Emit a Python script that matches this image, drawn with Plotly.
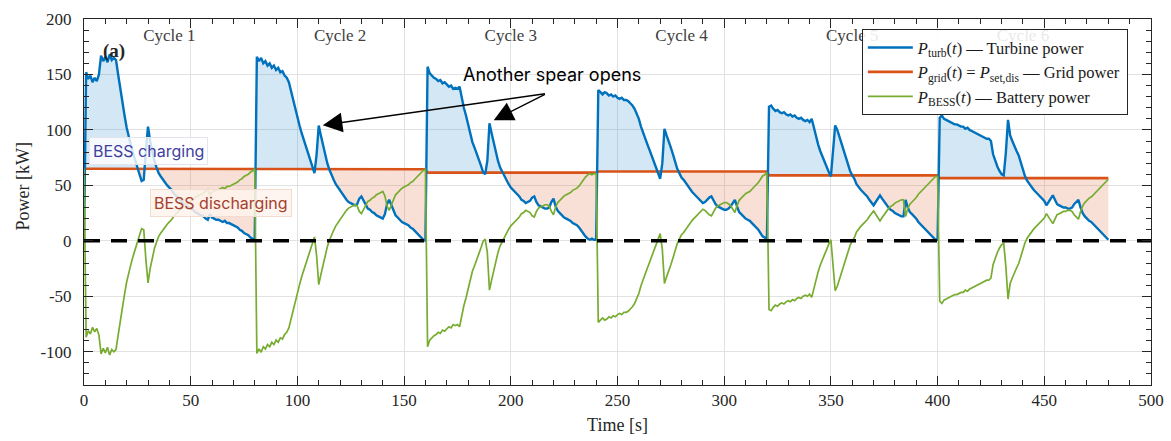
import numpy as np
import plotly.graph_objects as go

# ---------------- data ----------------
# turbine power [kW], 1 s sampling, t = 0 s value then 80 values per cycle
turb_t0 = 0
cycle1 = [152, 146, 149, 143, 147, 144, 150, 167, 162, 166,
          161, 168, 163, 165, 163, 150, 136, 124, 113, 102,
          93, 86, 79, 72, 66, 60, 54, 55, 82, 103,
          90, 80, 72, 66, 61, 58, 55, 52, 50, 48,
          46, 43, 41, 39, 37, 35, 33, 32, 30, 29,
          28, 26, 25, 24, 23, 22, 20, 19, 24, 21,
          20, 19, 19, 18, 17, 18, 16, 16, 15, 14,
          13, 12, 10, 9, 7, 6, 5, 3, 2, 0]
cycle2 = [166, 162, 165, 160, 162, 158, 160, 156, 158, 154,
          156, 152, 153, 149, 147, 143, 135, 126, 118, 110,
          104, 97, 91, 85, 78, 71, 65, 61, 78, 104,
          95, 86, 78, 70, 64, 59, 55, 51, 48, 45,
          42, 40, 37, 35, 34, 33, 32, 33, 38, 40,
          36, 32, 29, 28, 26, 25, 23, 22, 21, 20,
          24, 33, 37, 32, 27, 23, 21, 19, 17, 16,
          15, 14, 12, 11, 9, 7, 5, 3, 1, 0]
cycle3 = [157, 151, 149, 147, 146, 144, 145, 142, 143, 141,
          139, 140, 137, 138, 137, 139, 129, 120, 113, 104,
          95, 89, 84, 79, 74, 68, 62, 60, 72, 106,
          97, 89, 79, 72, 66, 62, 58, 55, 51, 48,
          46, 44, 42, 40, 37, 36, 34, 35, 36, 39,
          40, 35, 32, 31, 30, 29, 29, 30, 35, 38,
          31, 27, 25, 23, 21, 20, 19, 18, 16, 15,
          14, 12, 9, 6, 4, 2, 1, 2, 1, 1]
cycle4 = [136, 134, 132, 134, 133, 131, 132, 130, 131, 129,
          128, 129, 127, 127, 126, 124, 122, 119, 115, 110,
          103, 97, 92, 87, 82, 77, 72, 67, 61, 56,
          70, 101, 95, 90, 84, 78, 71, 65, 61, 57,
          55, 52, 50, 47, 44, 42, 40, 38, 36, 34,
          35, 37, 39, 40, 36, 33, 31, 30, 29, 28,
          28, 29, 31, 34, 37, 31, 26, 24, 22, 20,
          19, 18, 16, 14, 12, 10, 7, 4, 3, 1]
cycle5 = [121, 122, 119, 117, 118, 116, 115, 116, 114, 113,
          114, 112, 113, 111, 110, 111, 109, 108, 109, 107,
          110, 102, 94, 87, 81, 76, 71, 66, 62, 58,
          78, 104, 100, 94, 87, 80, 74, 68, 63, 59,
          56, 51, 48, 46, 44, 42, 40, 37, 34, 32,
          35, 38, 41, 38, 35, 32, 30, 28, 27, 25,
          24, 23, 22, 22, 37, 30, 26, 24, 22, 20,
          17, 15, 13, 11, 9, 7, 5, 3, 1, 1]
cycle6 = [111, 113, 110, 109, 108, 107, 106, 105, 105, 104,
          103, 103, 101, 102, 100, 99, 98, 97, 96, 95,
          94, 93, 92, 92, 90, 78, 72, 67, 63, 60,
          59, 80, 109, 95, 90, 85, 81, 77, 70, 64,
          58, 54, 51, 48, 46, 44, 42, 40, 38, 36,
          32, 35, 38, 41, 37, 33, 32, 31, 30, 30,
          29, 29, 30, 33, 35, 37, 30, 25, 22, 20,
          18, 17, 15, 13, 11, 9, 7, 5, 3, 1]

# grid set-point per cycle [kW]
grid_levels = [65, 64.5, 61.5, 62.5, 59, 56.5]

cycle_labels = ["Cycle 1", "Cycle 2", "Cycle 3", "Cycle 4", "Cycle 5", "Cycle 6"]
cycle_centers = [40, 120, 200, 280, 360, 440]
cycle_label_level = 184
x_ticks = [0, 50, 100, 150, 200, 250, 300, 350, 400, 450, 500]
y_ticks = [-100, -50, 0, 50, 100, 150, 200]
y_ticktext = ["-100", "-50", "0", "50", "100", "150", "200"]

# ---------------- assemble series ----------------
cycles = [cycle1, cycle2, cycle3, cycle4, cycle5, cycle6]
turb = np.array([turb_t0] + [v for c in cycles for v in c], dtype=float)
time = np.arange(len(turb), dtype=float)
grid = np.array([grid_levels[0]] + [g for g, c in zip(grid_levels, cycles) for _ in c], dtype=float)
bess = grid - turb  # power balance: P_BESS = P_grid - P_turb

# insert crossing points for the two-colour fill
tt, uu, gg = [time[0]], [turb[0]], [grid[0]]
for i in range(1, len(time)):
    d0 = turb[i - 1] - grid[i - 1]
    d1 = turb[i] - grid[i]
    if d0 * d1 < 0:
        f = d0 / (d0 - d1)
        tc = time[i - 1] + f * (time[i] - time[i - 1])
        gc = grid[i - 1] + f * (grid[i] - grid[i - 1])
        tt.append(tc); uu.append(gc); gg.append(gc)
    tt.append(time[i]); uu.append(turb[i]); gg.append(grid[i])
tt = np.array(tt); uu = np.array(uu); gg = np.array(gg)
upper = np.maximum(uu, gg)
lower = np.minimum(uu, gg)

BLUE = "#0072BD"
ORANGE = "#D95319"
GREEN = "#77AC30"
SERIF = "Liberation Serif"
SANS = "Inter"

fig = go.Figure()
# cycle labels as a text trace (drawn beneath the legend)
fig.add_trace(go.Scatter(x=cycle_centers, y=[cycle_label_level] * len(cycle_centers),
                         mode="text", text=cycle_labels, textposition="middle center",
                         textfont=dict(family=SERIF, size=17, color="#404040"),
                         showlegend=False, hoverinfo="skip"))
# charging fill (turbine above grid)
fig.add_trace(go.Scatter(x=tt, y=gg, mode="lines", line=dict(width=0),
                         showlegend=False, hoverinfo="skip"))
fig.add_trace(go.Scatter(x=tt, y=upper, mode="lines", line=dict(width=0),
                         fill="tonexty", fillcolor="rgba(0,114,189,0.17)",
                         showlegend=False, hoverinfo="skip"))
# discharging fill (turbine below grid)
fig.add_trace(go.Scatter(x=tt, y=gg, mode="lines", line=dict(width=0),
                         showlegend=False, hoverinfo="skip"))
fig.add_trace(go.Scatter(x=tt, y=lower, mode="lines", line=dict(width=0),
                         fill="tonexty", fillcolor="rgba(217,83,25,0.18)",
                         showlegend=False, hoverinfo="skip"))

fig.add_trace(go.Scatter(
    x=time, y=grid, mode="lines", line=dict(color=ORANGE, width=2.6),
    name="<i>P</i><sub>grid</sub>(<i>t</i>) = <i>P</i><sub>set,dis</sub> — Grid power",
    legendrank=2))
fig.add_trace(go.Scatter(
    x=time, y=turb, mode="lines", line=dict(color=BLUE, width=2.4),
    name="<i>P</i><sub>turb</sub>(<i>t</i>) — Turbine power", legendrank=1))
fig.add_trace(go.Scatter(
    x=time, y=bess, mode="lines", line=dict(color=GREEN, width=1.7),
    name="<i>P</i><sub>BESS</sub>(<i>t</i>) — Battery power", legendrank=3))
fig.add_trace(go.Scatter(
    x=[x_ticks[0], x_ticks[-1]], y=[0, 0], mode="lines",
    line=dict(color="black", width=3.6, dash="16px,11px"),
    showlegend=False, hoverinfo="skip"))

annotations = [
    dict(x=13.9, y=171, xref="x", yref="y", text="<b>(a)</b>", showarrow=False,
         font=dict(family=SERIF, size=19, color="#262626")),
    dict(x=30.3, y=80.8, xref="x", yref="y", text="BESS charging", showarrow=False,
         font=dict(family=SANS, size=16, color="#3f3f9e"),
         bgcolor="rgba(255,255,255,0.8)", bordercolor="#e4e4ee", borderwidth=1, borderpad=3),
    dict(x=64, y=34, xref="x", yref="y", text="BESS discharging", showarrow=False,
         font=dict(family=SANS, size=16, color="#a5402c"),
         bgcolor="rgba(254,243,237,0.85)", bordercolor="#f3dccf", borderwidth=1, borderpad=3),
    dict(x=219.2, y=150.2, xref="x", yref="y", text="Another spear opens", showarrow=False,
         font=dict(family=SANS, size=18, color="black")),
    dict(x=111.9, y=104.2, ax=216.7, ay=132.8, xref="x", yref="y", axref="x", ayref="y",
         text="", showarrow=True, arrowhead=2, arrowsize=2.8, arrowwidth=1.4, arrowcolor="black"),
    dict(x=192.0, y=108.7, ax=216.7, ay=132.8, xref="x", yref="y", axref="x", ayref="y",
         text="", showarrow=True, arrowhead=2, arrowsize=2.8, arrowwidth=1.4, arrowcolor="black"),
    dict(x=-0.0576, y=0.541, xref="paper", yref="paper", xanchor="center", yanchor="middle",
         text="Power [kW]", textangle=-90,
         showarrow=False, font=dict(family=SERIF, size=18, color="#262626")),
]

axis_common = dict(
    ticks="inside", ticklen=9, tickwidth=1, tickcolor="#262626",
    showline=True, linecolor="#262626", linewidth=1, mirror="allticks",
    showgrid=True, gridcolor="#e2e2e2", gridwidth=1, zeroline=False,
    tickfont=dict(family=SERIF, size=17, color="#262626"),
    automargin=False,
)

fig.update_layout(
    template="none",
    width=1171, height=441,
    margin=dict(l=84, r=20, t=19, b=56),
    plot_bgcolor="white", paper_bgcolor="white",
    font=dict(family=SERIF, size=16, color="#262626"),
    xaxis=dict(range=[0, 500], tickvals=x_ticks, ticklabelstandoff=0,
               minor=dict(ticks="inside", dtick=10, ticklen=5, tickcolor="#262626", showgrid=False),
               title=dict(text="Time [s]", font=dict(family=SERIF, size=18, color="#262626"), standoff=8),
               **axis_common),
    yaxis=dict(range=[-130, 200], tickvals=y_ticks, ticktext=y_ticktext, ticklabelstandoff=8,
               minor=dict(ticks="inside", dtick=10, ticklen=5, tickcolor="#262626", showgrid=False),
               **axis_common),
    legend=dict(x=0.729, y=0.972, xanchor="left", yanchor="top", traceorder="normal",
                bgcolor="rgba(255,255,255,0.88)", bordercolor="#262626", borderwidth=1,
                font=dict(family=SERIF, size=16.5, color="#1a1a1a"), itemwidth=45,
                tracegroupgap=0),
    annotations=annotations,
    showlegend=True,
)

fig.write_html("out.html")
